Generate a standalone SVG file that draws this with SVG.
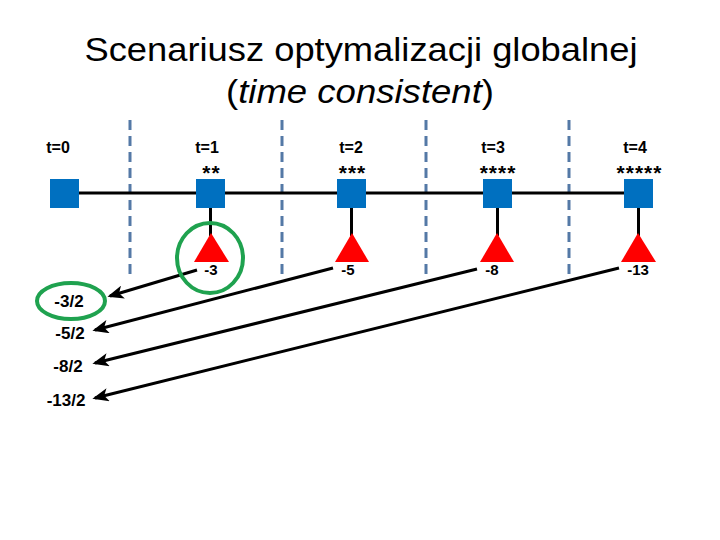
<svg xmlns="http://www.w3.org/2000/svg" width="720" height="540" viewBox="0 0 720 540">
<style>
.title{font-family:"Liberation Sans",Arial,sans-serif;font-size:34px;fill:#000}
.lbl{font-family:"Liberation Sans",Arial,sans-serif;font-size:16px;font-weight:bold;fill:#000;text-anchor:middle}
.val{font-family:"Liberation Sans",Arial,sans-serif;font-size:15px;font-weight:bold;fill:#000;text-anchor:middle}
.ast{font-family:"Liberation Sans",Arial,sans-serif;font-size:21px;font-weight:bold;fill:#000;text-anchor:middle;letter-spacing:1px}
.frac{font-family:"Liberation Sans",Arial,sans-serif;font-size:17px;font-weight:bold;fill:#000;text-anchor:middle}
.sq{fill:#0070c0}
.tri{fill:#ff0000}
.dash{stroke:#5479a6;stroke-width:3;stroke-dasharray:10 6;fill:none}
.ln{stroke:#000;stroke-width:3;fill:none}
.arr{stroke:#000;stroke-width:3;fill:none;marker-end:url(#ah)}
.ring{stroke:#1fa24f;stroke-width:4;fill:none}
</style>
<defs>
<marker id="ah" viewBox="0 0 12 10" refX="10" refY="5" markerWidth="5.5" markerHeight="4.5" orient="auto" markerUnits="strokeWidth">
<path d="M0,0 L12,5 L0,10 L3,5 Z" fill="#000"/>
</marker>
</defs>
<rect width="720" height="540" fill="#fff"/>
<g id="title">
<text class="title" x="361" y="61" text-anchor="middle" textLength="553" lengthAdjust="spacingAndGlyphs">Scenariusz optymalizacji globalnej</text>
<text class="title" x="360" y="103" text-anchor="middle" textLength="268" lengthAdjust="spacingAndGlyphs">(<tspan font-style="italic">time consistent</tspan>)</text>
</g>
<g id="dividers">
<line class="dash" x1="130" y1="120" x2="130" y2="276"/>
<line class="dash" x1="282" y1="120" x2="282" y2="276"/>
<line class="dash" x1="426" y1="120" x2="426" y2="276"/>
<line class="dash" x1="569" y1="120" x2="569" y2="276"/>
</g>
<g id="connectors">
<line class="ln" x1="64" y1="193" x2="638" y2="193"/>
<line class="ln" x1="210.5" y1="193" x2="210.5" y2="236"/>
<line class="ln" x1="351.5" y1="193" x2="351.5" y2="236"/>
<line class="ln" x1="497.5" y1="193" x2="497.5" y2="236"/>
<line class="ln" x1="638.5" y1="193" x2="638.5" y2="236"/>
<line class="arr" x1="197" y1="270" x2="110" y2="296"/>
<line class="arr" x1="333" y1="268" x2="95" y2="330"/>
<line class="arr" x1="477" y1="269" x2="95" y2="363"/>
<line class="arr" x1="619" y1="268" x2="95" y2="398"/>
</g>
<g id="n0">
<text class="lbl" x="58" y="153">t=0</text>
<rect class="sq" x="50" y="179" width="29" height="29"/>
</g>
<g id="n1">
<text class="lbl" x="207" y="153">t=1</text>
<text class="ast" x="211.5" y="180">**</text>
<rect class="sq" x="196" y="179" width="29" height="29"/>
<polygon class="tri" points="211,233 229,262 194,262"/>
<text class="val" x="211" y="275">-3</text>
<ellipse class="ring" cx="210" cy="258" rx="33" ry="35"/>
</g>
<g id="n2">
<text class="lbl" x="351" y="153">t=2</text>
<text class="ast" x="352.5" y="180">***</text>
<rect class="sq" x="337" y="179" width="29" height="29"/>
<polygon class="tri" points="352,233 369,262 335,262"/>
<text class="val" x="348" y="275">-5</text>
</g>
<g id="n3">
<text class="lbl" x="493" y="153">t=3</text>
<text class="ast" x="498" y="180">****</text>
<rect class="sq" x="483" y="179" width="29" height="29"/>
<polygon class="tri" points="497,233 514,262 480,262"/>
<text class="val" x="492" y="275">-8</text>
</g>
<g id="n4">
<text class="lbl" x="635" y="153">t=4</text>
<text class="ast" x="639.5" y="180">*****</text>
<rect class="sq" x="624" y="179" width="29" height="29"/>
<polygon class="tri" points="638,233 656,262 621,262"/>
<text class="val" x="638" y="275">-13</text>
</g>
<g id="fractions">
<ellipse class="ring" cx="71" cy="301" rx="34" ry="18"/>
<text class="frac" x="69" y="307">-3/2</text>
<text class="frac" x="70" y="339">-5/2</text>
<text class="frac" x="68" y="372">-8/2</text>
<text class="frac" x="66" y="406">-13/2</text>
</g>
</svg>
